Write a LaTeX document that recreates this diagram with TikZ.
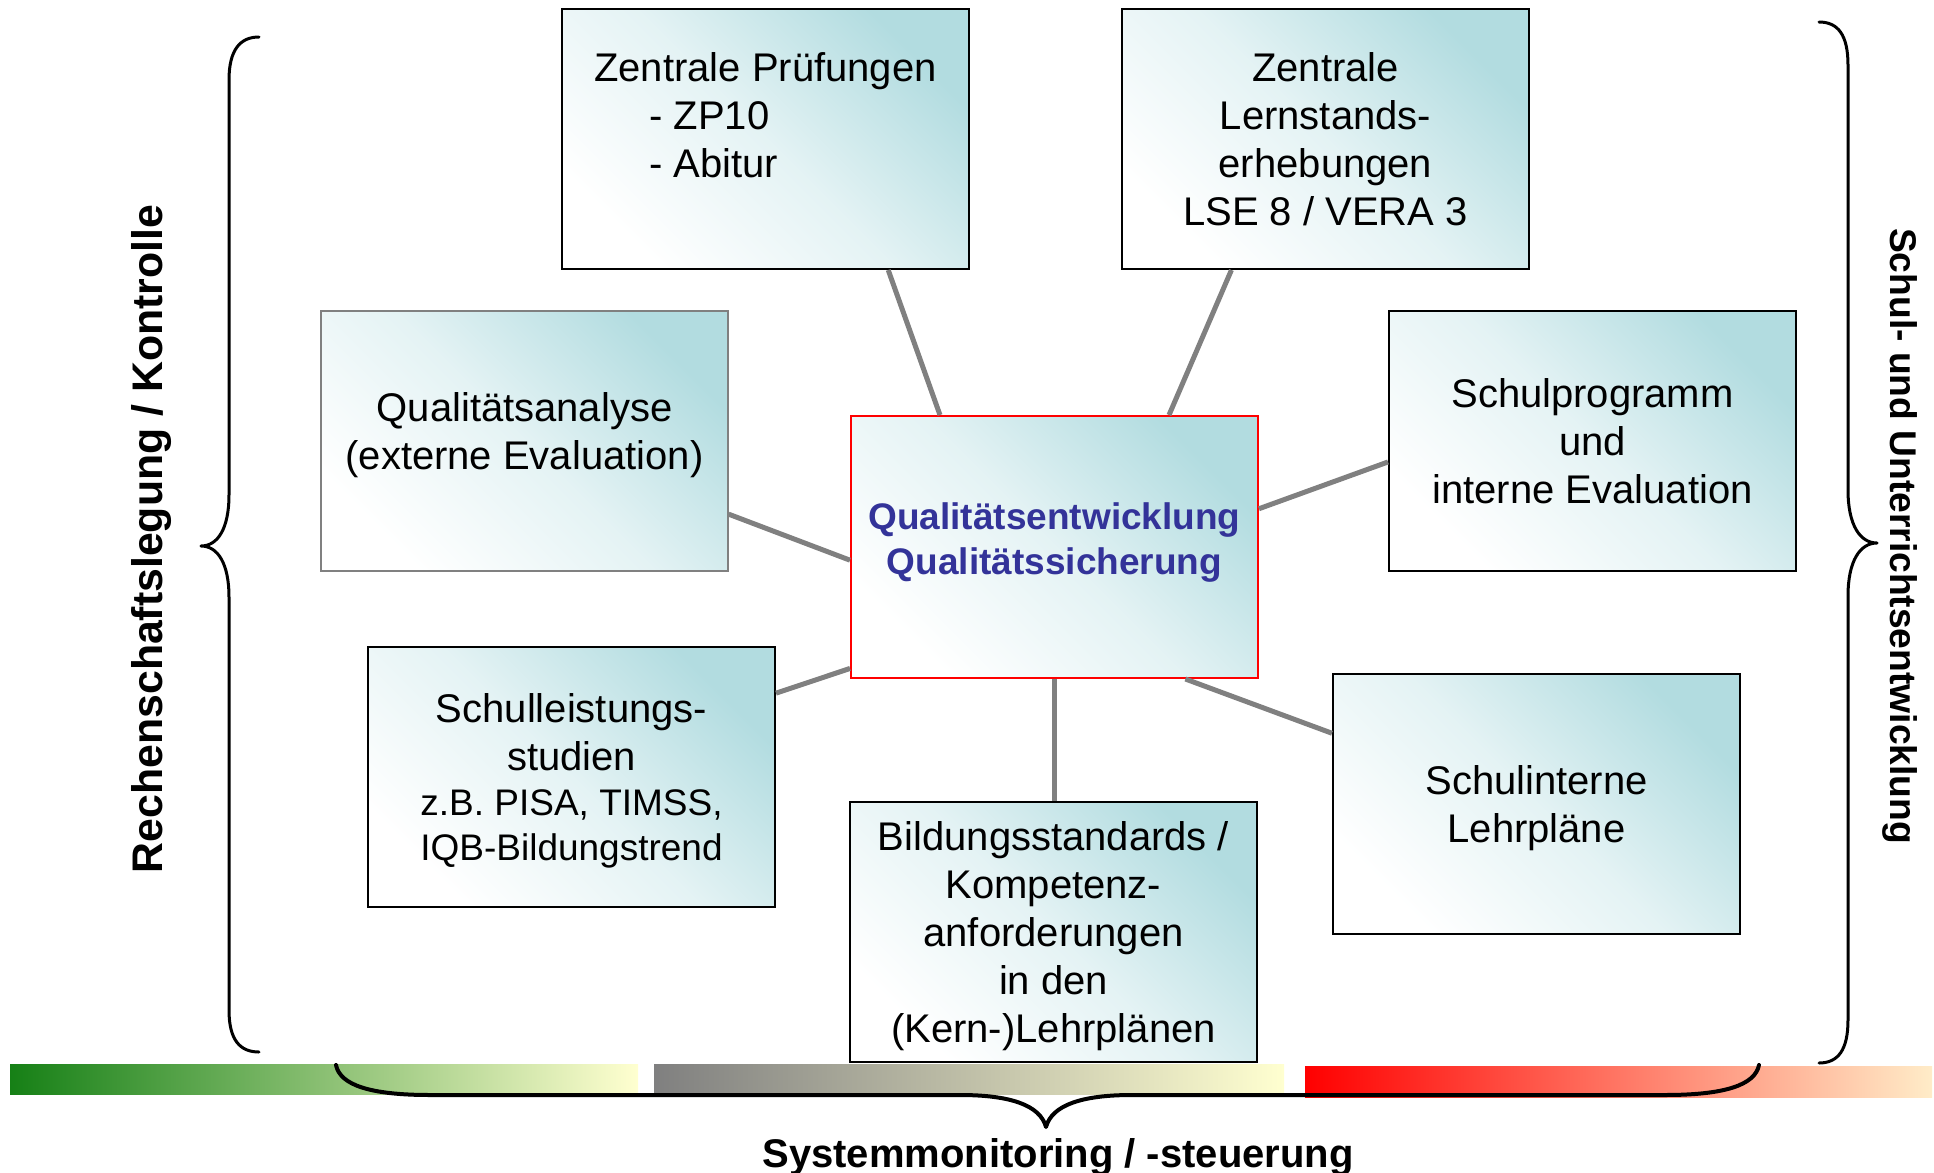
\documentclass[tikz,border=0pt]{standalone}
\usepackage{fontspec}
\setmainfont{Liberation Sans}
\usetikzlibrary{calc,positioning}
\definecolor{qteal}{RGB}{178,220,224}
\definecolor{qblue}{RGB}{51,51,153}
\definecolor{qgreen}{RGB}{22,128,22}
\definecolor{qpale}{RGB}{255,255,208}
\definecolor{qpeach}{RGB}{255,236,200}
\newcommand{\smalltxt}{\fontsize{18.5}{22.5}\selectfont}

\begin{document}
\begin{tikzpicture}[x=0.5pt,y=-0.5pt,
  qbox/.style={draw=black,line width=1pt,minimum width=203.5pt,minimum height=130pt,inner sep=0pt,
    top color=qteal,bottom color=white,middle color=qteal!35!white,shading angle=-45,align=center,
    font=\fontsize{20}{24}\selectfont},
  hubbox/.style={qbox,draw=red,minimum height=131pt,text=qblue,font=\bfseries\fontsize{18.5}{22.8}\selectfont},
  link/.style={draw=gray,line width=2.5pt},
  curly/.style={line width=1.5pt,line cap=round,line join=round},
  sidetext/.style={font=\bfseries\fontsize{21}{25}\selectfont}]
  \useasboundingbox (0,0) rectangle (1934,1173);

  % colour bars
  \shade[left color=qgreen,right color=qpale] (10,1064) rectangle (638,1094);
  \shade[left color=gray,right color=qpale] (654,1064) rectangle (1284,1094);
  \shade[left color=red,right color=qpeach] (1305,1066) rectangle (1932,1097);

  % boxes
  \node[hubbox,text depth=8.5pt] (qe) at (1054.5,547) {Qualitätsentwicklung\\Qualitätssicherung};
  \node[qbox,align=left] (zp) at (765.5,139) {Zentrale Prüfungen\\\hspace*{27.5pt}- ZP10\\\hspace*{27.5pt}- Abitur\\\mbox{}};
  \node[qbox] (lse) at (1325.5,139) {Zentrale\\Lernstands-\\erhebungen\\LSE 8 / VERA 3};
  \node[qbox,draw=gray,line width=0.6pt,text depth=10.2pt] (qa) at (524.5,441) {Qualitätsanalyse\\(externe Evaluation)};
  \node[qbox] (sp) at (1592.5,441) {Schulprogramm\\und\\interne Evaluation};
  \node[qbox,text depth=-1.6pt] (sl) at (571.5,777) {Schulleistungs-\\studien\\[-1.5pt]\smalltxt z.B. PISA, TIMSS,\\[-1.5pt]\smalltxt IQB-Bildungstrend};
  \node[qbox,text depth=-0.8pt] (bs) at (1053.5,932) {Bildungsstandards /\\Kompetenz-\\anforderungen\\in den\\(Kern-)Lehrplänen};
  \node[qbox,text depth=-0.8pt] (si) at (1536.5,804) {Schulinterne\\Lehrpläne};

  % spokes
  \draw[link] ($(zp.south west)!0.8!(zp.south east)$) -- ($(qe.north west)!0.22!(qe.north east)$);
  \draw[link] ($(lse.south west)!0.27!(lse.south east)$) -- ($(qe.north west)!0.78!(qe.north east)$);
  \draw[link] ($(qa.north east)!0.78!(qa.south east)$) -- ($(qe.north west)!0.55!(qe.south west)$);
  \draw[link] ($(sp.north west)!0.58!(sp.south west)$) -- ($(qe.north east)!0.355!(qe.south east)$);
  \draw[link] ($(sl.north east)!0.18!(sl.south east)$) -- ($(qe.north west)!0.96!(qe.south west)$);
  \draw[link] (qe.south) -- (qe.south |- bs.north);
  \draw[link] ($(si.north west)!0.23!(si.south west)$) -- ($(qe.south west)!0.82!(qe.south east)$);

  % braces
  \draw[curly] (259,37) .. controls (240,37) and (229,50) .. (229,80) -- (229,495)
    .. controls (229,528) and (218,546) .. (201,546) .. controls (218,546) and (229,564) .. (229,597)
    -- (229,1010) .. controls (229,1040) and (240,1052) .. (259,1052);
  \draw[curly] (1819,22) .. controls (1838,22) and (1848,35) .. (1848,65) -- (1848,490)
    .. controls (1848,525) and (1860,543) .. (1877,543) .. controls (1860,543) and (1848,561) .. (1848,596)
    -- (1848,1020) .. controls (1848,1050) and (1838,1063) .. (1819,1063);
  \draw[curly,line width=2pt] (336,1065) .. controls (340,1085) and (370,1095) .. (430,1095) -- (960,1095)
    .. controls (1010,1095) and (1040,1105) .. (1046,1127) .. controls (1052,1105) and (1082,1095) .. (1132,1095)
    -- (1665,1095) .. controls (1725,1095) and (1755,1085) .. (1759,1065);

  % side labels
  \node[sidetext,rotate=90,font=\bfseries\fontsize{21.4}{25}\selectfont] (lefttxt) at (152,539) {Rechenschaftslegung / Kontrolle};
  \node[sidetext,rotate=-90,font=\bfseries\fontsize{18.6}{22}\selectfont] (righttxt) at (1900,536) {Schul- und Unterrichtsentwicklung};
  \node[sidetext,font=\bfseries\fontsize{20}{24}\selectfont,anchor=base] (bottomtxt) at (1058,1167) {Systemmonitoring / -steuerung};
\end{tikzpicture}
\end{document}
